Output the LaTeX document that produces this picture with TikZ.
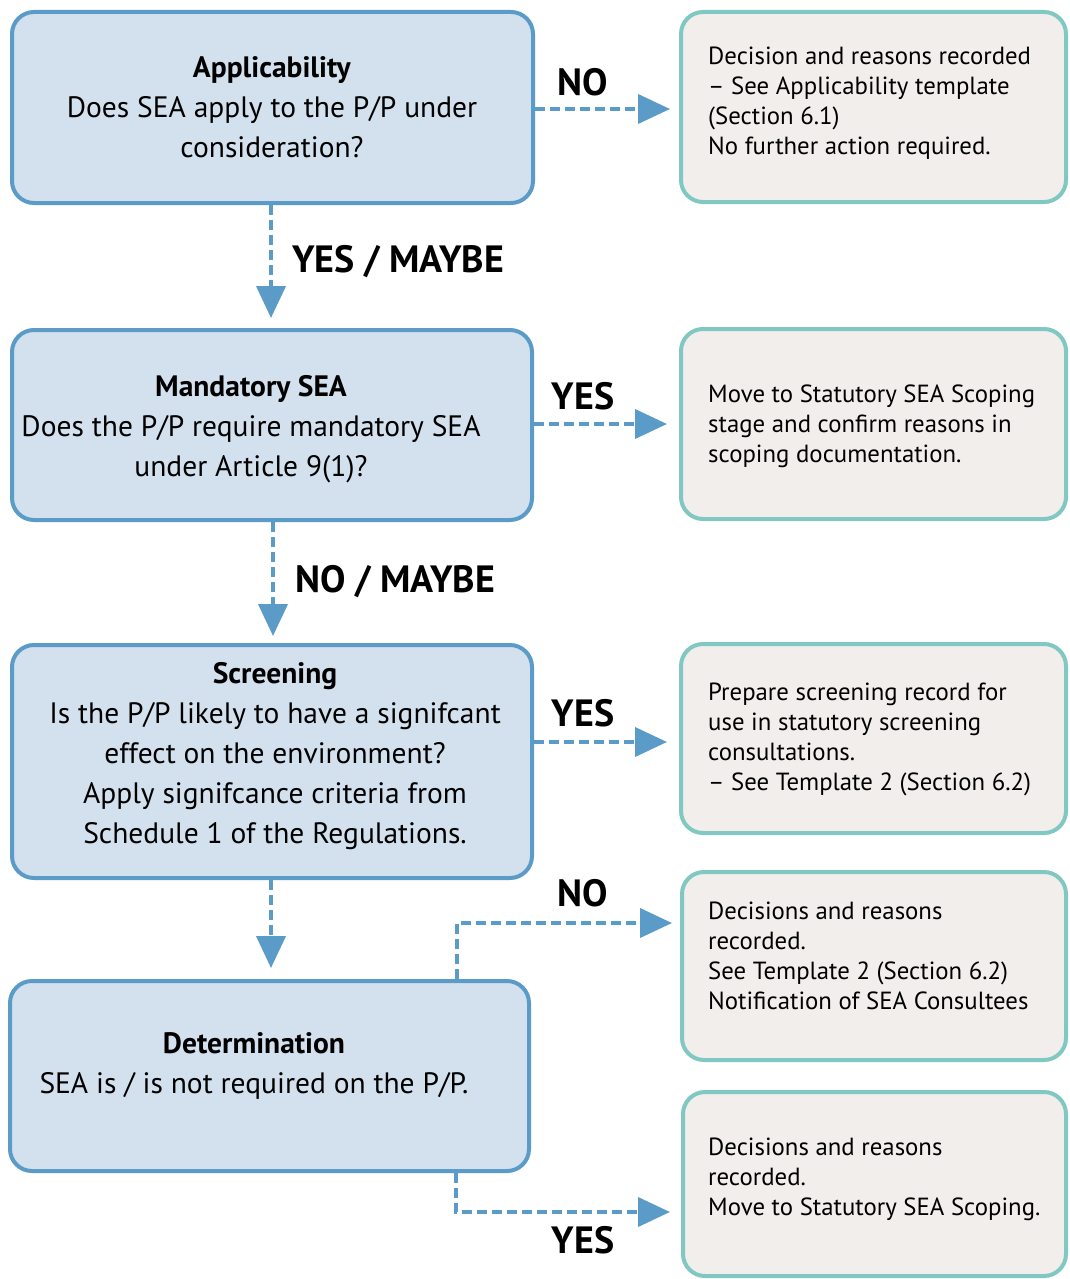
\documentclass[tikz,border=0pt]{standalone}
\usepackage{fontspec}
\setmainfont{PT Sans}
\usetikzlibrary{arrows.meta}
\definecolor{bbord}{HTML}{5A9BC8}
\definecolor{bfill}{HTML}{D3E1EE}
\definecolor{tbord}{HTML}{80C8C1}
\definecolor{tfill}{HTML}{F1EEEC}
\definecolor{arr}{HTML}{5A9BC8}
\begin{document}
\begin{tikzpicture}[x=1pt,y=-1pt,
  qbox/.style={draw=bbord, fill=bfill, line width=4pt, rounded corners=22pt, inner sep=0pt},
  rbox/.style={draw=tbord, fill=tfill, line width=4pt, rounded corners=22pt, inner sep=0pt},
  qtext/.style={align=center, font=\fontsize{29.5}{40}\selectfont, inner sep=0pt},
  rtext/.style={align=left, anchor=west, font=\fontsize{24.8}{30}\selectfont, inner sep=0pt},
  lab/.style={font=\bfseries\fontsize{38}{38}\selectfont, inner sep=0pt},
  flow/.style={draw=arr, line width=4pt, dash pattern=on 10pt off 5pt, -{Triangle[length=32pt,width=29pt]}}]
\useasboundingbox (0,0) rectangle (1070,1279);
% question boxes
\node[qbox, minimum width=521pt, minimum height=191pt] (b1) at (272.5,107.5) {};
\node[qbox, minimum width=520pt, minimum height=190pt] (b2) at (272,425) {};
\node[qbox, minimum width=520pt, minimum height=233pt] (b3) at (272,761.5) {};
\node[qbox, minimum width=519pt, minimum height=190pt] (b4) at (269.5,1076) {};
% result boxes
\node[rbox, minimum width=385pt, minimum height=190pt] (r1) at (873.5,107) {};
\node[rbox, minimum width=385pt, minimum height=190pt] (r2) at (873.5,424) {};
\node[rbox, minimum width=385pt, minimum height=189pt] (r3) at (873.5,738.5) {};
\node[rbox, minimum width=384pt, minimum height=188pt] (r4) at (874,966) {};
\node[rbox, minimum width=383pt, minimum height=184pt] (r5) at (874.5,1184) {};
% question texts
\node[qtext] (t1) at (272,107) {\textbf{Applicability}\\Does SEA apply to the P/P under\\consideration?};
\node[qtext] (t2) at (251,429) {\textbf{Mandatory SEA}\\Does the P/P require mandatory SEA\\under Article 9(1)?};
\node[qtext] (t3) at (275,756) {\textbf{Screening}\\Is the P/P likely to have a signifcant\\effect on the environment?\\Apply signifcance criteria from\\Schedule 1 of the Regulations.};
\node[qtext] (t4) at (254,1066) {\textbf{Determination}\\SEA is / is not required on the P/P.};
% result texts
\node[rtext] (u1) at (708,103) {Decision and reasons recorded\\– See Applicability template\\(Section 6.1)\\No further action required.};
\node[rtext] (u2) at (708,426) {Move to Statutory SEA Scoping\\stage and confirm reasons in\\scoping documentation.};
\node[rtext] (u3) at (708,739) {Prepare screening record for\\use in statutory screening\\consultations.\\– See Template 2 (Section 6.2)};
\node[rtext] (u4) at (708,956) {Decisions and reasons\\recorded.\\See Template 2 (Section 6.2)\\Notification of SEA Consultees};
\node[rtext] (u5) at (708,1179) {Decisions and reasons\\recorded.\\Move to Statutory SEA Scoping.};
% coordinates
\coordinate (a1s) at (b1.east |- 0,109);
\coordinate (a1e) at (670,109);
\coordinate (a2s) at (b2.east |- 0,424);
\coordinate (a2e) at (667,424);
\coordinate (a3s) at (b3.east |- 0,742);
\coordinate (a3e) at (667,742);
\coordinate (d1s) at (271,0 |- b1.south);
\coordinate (d1e) at (271,318);
\coordinate (d2s) at (273,0 |- b2.south);
\coordinate (d2e) at (273,636);
\coordinate (d3s) at (271,0 |- b3.south);
\coordinate (d3e) at (271,968);
\coordinate (n4s) at (457,0 |- b4.north);
\coordinate (n4e) at (672,923);
\coordinate (y5s) at (456,0 |- b4.south);
\coordinate (y5e) at (670,1212);
% connectors
\draw[flow] (a1s) -- (a1e);
\draw[flow] (a2s) -- (a2e);
\draw[flow] (a3s) -- (a3e);
\draw[flow] (d1s) -- (d1e);
\draw[flow] (d2s) -- (d2e);
\draw[flow] (d3s) -- (d3e);
\draw[flow] (n4s) |- (n4e);
\draw[flow] (y5s) |- (y5e);
% labels
\node[lab] (l1) at (583,82) {NO};
\node[lab, anchor=west] (l2) at (292,262) {YES / MAYBE};
\node[lab] (l3) at (583,396) {YES};
\node[lab, anchor=west] (l4) at (295,582) {NO / MAYBE};
\node[lab] (l5) at (583,713) {YES};
\node[lab] (l6) at (583,893) {NO};
\node[lab] (l7) at (583,1240) {YES};
\end{tikzpicture}
\end{document}
